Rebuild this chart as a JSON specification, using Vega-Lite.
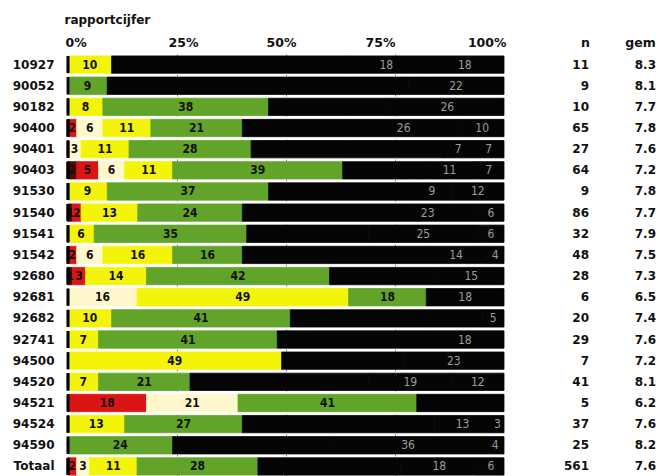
{
  "$schema": "https://vega.github.io/schema/vega-lite/v6.json",
  "padding": {"left": 12, "top": 13, "right": 0, "bottom": 0},
  "background": "white",
  "bounds": "flush",
  "spacing": 70,
  "datasets": {
    "segments": [
      {"code": "10927", "cat": "k4", "value": 10}, {"code": "10927", "cat": "k6", "value": 54}, {"code": "10927", "cat": "k7", "value": 18}, {"code": "10927", "cat": "k8", "value": 18},
      {"code": "90052", "cat": "k5", "value": 9}, {"code": "90052", "cat": "k6", "value": 69}, {"code": "90052", "cat": "k7", "value": 22},
      {"code": "90182", "cat": "k4", "value": 8}, {"code": "90182", "cat": "k5", "value": 38}, {"code": "90182", "cat": "k6", "value": 28}, {"code": "90182", "cat": "k7", "value": 26},
      {"code": "90400", "cat": "k2", "value": 2}, {"code": "90400", "cat": "k3", "value": 6}, {"code": "90400", "cat": "k4", "value": 11}, {"code": "90400", "cat": "k5", "value": 21}, {"code": "90400", "cat": "k6", "value": 24}, {"code": "90400", "cat": "k7", "value": 26}, {"code": "90400", "cat": "k8", "value": 10},
      {"code": "90401", "cat": "k3", "value": 3}, {"code": "90401", "cat": "k4", "value": 11}, {"code": "90401", "cat": "k5", "value": 28}, {"code": "90401", "cat": "k6", "value": 44}, {"code": "90401", "cat": "k7", "value": 7}, {"code": "90401", "cat": "k8", "value": 7},
      {"code": "90403", "cat": "k1", "value": 2}, {"code": "90403", "cat": "k2", "value": 5}, {"code": "90403", "cat": "k3", "value": 6}, {"code": "90403", "cat": "k4", "value": 11}, {"code": "90403", "cat": "k5", "value": 39}, {"code": "90403", "cat": "k6", "value": 19}, {"code": "90403", "cat": "k7", "value": 11}, {"code": "90403", "cat": "k8", "value": 7},
      {"code": "91530", "cat": "k4", "value": 9}, {"code": "91530", "cat": "k5", "value": 37}, {"code": "91530", "cat": "k6", "value": 33}, {"code": "91530", "cat": "k7", "value": 9}, {"code": "91530", "cat": "k8", "value": 12},
      {"code": "91540", "cat": "k1", "value": 1}, {"code": "91540", "cat": "k2", "value": 2}, {"code": "91540", "cat": "k4", "value": 13}, {"code": "91540", "cat": "k5", "value": 24}, {"code": "91540", "cat": "k6", "value": 31}, {"code": "91540", "cat": "k7", "value": 23}, {"code": "91540", "cat": "k8", "value": 6},
      {"code": "91541", "cat": "k4", "value": 6}, {"code": "91541", "cat": "k5", "value": 35}, {"code": "91541", "cat": "k6", "value": 28}, {"code": "91541", "cat": "k7", "value": 25}, {"code": "91541", "cat": "k8", "value": 6},
      {"code": "91542", "cat": "k2", "value": 2}, {"code": "91542", "cat": "k3", "value": 6}, {"code": "91542", "cat": "k4", "value": 16}, {"code": "91542", "cat": "k5", "value": 16}, {"code": "91542", "cat": "k6", "value": 42}, {"code": "91542", "cat": "k7", "value": 14}, {"code": "91542", "cat": "k8", "value": 4},
      {"code": "92680", "cat": "k1", "value": 1}, {"code": "92680", "cat": "k2", "value": 3}, {"code": "92680", "cat": "k4", "value": 14}, {"code": "92680", "cat": "k5", "value": 42}, {"code": "92680", "cat": "k6", "value": 25}, {"code": "92680", "cat": "k8", "value": 15},
      {"code": "92681", "cat": "k3", "value": 16}, {"code": "92681", "cat": "k4", "value": 49}, {"code": "92681", "cat": "k5", "value": 18}, {"code": "92681", "cat": "k7", "value": 18},
      {"code": "92682", "cat": "k4", "value": 10}, {"code": "92682", "cat": "k5", "value": 41}, {"code": "92682", "cat": "k6", "value": 44}, {"code": "92682", "cat": "k8", "value": 5},
      {"code": "92741", "cat": "k4", "value": 7}, {"code": "92741", "cat": "k5", "value": 41}, {"code": "92741", "cat": "k6", "value": 34}, {"code": "92741", "cat": "k8", "value": 18},
      {"code": "94500", "cat": "k4", "value": 49}, {"code": "94500", "cat": "k6", "value": 28}, {"code": "94500", "cat": "k7", "value": 23},
      {"code": "94520", "cat": "k4", "value": 7}, {"code": "94520", "cat": "k5", "value": 21}, {"code": "94520", "cat": "k6", "value": 41}, {"code": "94520", "cat": "k7", "value": 19}, {"code": "94520", "cat": "k8", "value": 12},
      {"code": "94521", "cat": "k2", "value": 18}, {"code": "94521", "cat": "k3", "value": 21}, {"code": "94521", "cat": "k5", "value": 41}, {"code": "94521", "cat": "k6", "value": 20},
      {"code": "94524", "cat": "k4", "value": 13}, {"code": "94524", "cat": "k5", "value": 27}, {"code": "94524", "cat": "k6", "value": 44}, {"code": "94524", "cat": "k7", "value": 13}, {"code": "94524", "cat": "k8", "value": 3},
      {"code": "94590", "cat": "k5", "value": 24}, {"code": "94590", "cat": "k6", "value": 36}, {"code": "94590", "cat": "k7", "value": 36}, {"code": "94590", "cat": "k8", "value": 4},
      {"code": "Totaal", "cat": "k2", "value": 2}, {"code": "Totaal", "cat": "k3", "value": 3}, {"code": "Totaal", "cat": "k4", "value": 11}, {"code": "Totaal", "cat": "k5", "value": 28}, {"code": "Totaal", "cat": "k6", "value": 33}, {"code": "Totaal", "cat": "k7", "value": 18}, {"code": "Totaal", "cat": "k8", "value": 6}
    ],
    "stats": [
      {"code": "10927", "n": 11, "gem": 8.3}, {"code": "90052", "n": 9, "gem": 8.1},
      {"code": "90182", "n": 10, "gem": 7.7}, {"code": "90400", "n": 65, "gem": 7.8},
      {"code": "90401", "n": 27, "gem": 7.6}, {"code": "90403", "n": 64, "gem": 7.2},
      {"code": "91530", "n": 9, "gem": 7.8}, {"code": "91540", "n": 86, "gem": 7.7},
      {"code": "91541", "n": 32, "gem": 7.9}, {"code": "91542", "n": 48, "gem": 7.5},
      {"code": "92680", "n": 28, "gem": 7.3}, {"code": "92681", "n": 6, "gem": 6.5},
      {"code": "92682", "n": 20, "gem": 7.4}, {"code": "92741", "n": 29, "gem": 7.6},
      {"code": "94500", "n": 7, "gem": 7.2}, {"code": "94520", "n": 41, "gem": 8.1},
      {"code": "94521", "n": 5, "gem": 6.2}, {"code": "94524", "n": 37, "gem": 7.6},
      {"code": "94590", "n": 25, "gem": 8.2}, {"code": "Totaal", "n": 561, "gem": 7.6}
    ]
  },
  "hconcat": [
    {
      "width": 436,
      "height": 423,
      "data": {"name": "segments"},
      "transform": [
        {"stack": "value", "groupby": ["code"], "sort": [{"field": "cat"}], "offset": "normalize", "as": ["x0", "x1"]},
        {"calculate": "(datum.x0 + datum.x1) / 2", "as": "xm"}
      ],
      "encoding": {
        "y": {
          "field": "code",
          "type": "nominal",
          "scale": {
            "domain": ["10927", "90052", "90182", "90400", "90401", "90403", "91530", "91540", "91541", "91542", "92680", "92681", "92682", "92741", "94500", "94520", "94521", "94524", "94590", "Totaal"],
            "paddingInner": 0.18,
            "paddingOuter": 0.09
          },
          "axis": {
            "title": null,
            "domain": false,
            "ticks": false,
            "labelPadding": 14,
            "labelFont": "DejaVu Sans",
            "labelFontWeight": "bold",
            "labelFontSize": 12,
            "labelColor": "#111"
          }
        }
      },
      "layer": [
        {
          "mark": {"type": "bar", "strokeWidth": 0.8},
          "encoding": {
            "x": {
              "field": "x0",
              "type": "quantitative",
              "scale": {"domain": [0, 1], "nice": false},
              "axis": {
                "orient": "top",
                "values": [0, 0.25, 0.5, 0.75, 1],
                "format": "%",
                "domain": false,
                "ticks": false,
                "grid": true,
                "gridColor": {"condition": {"test": "datum.value == 0 || datum.value == 1", "value": "transparent"}, "value": "#8a8a8a"},
                "gridDash": [2, 3],
                "labelPadding": 4.5,
                "labelFont": "DejaVu Sans",
                "labelFontWeight": "bold",
                "labelFontSize": 12.5,
                "labelColor": "#111",
                "labelAlign": {"condition": [{"test": "datum.value == 0", "value": "left"}, {"test": "datum.value == 1", "value": "right"}], "value": "center"},
                "labelOffset": {"condition": [{"test": "datum.value == 0", "value": -3}, {"test": "datum.value == 0.25", "value": 6}, {"test": "datum.value == 0.5", "value": -5}, {"test": "datum.value == 0.75", "value": -15}], "value": 2},
                "title": "rapportcijfer",
                "titleAnchor": "start",
                "titleAlign": "left",
                "titleFont": "DejaVu Sans",
                "titleFontWeight": "bold",
                "titleFontSize": 12,
                "titleColor": "#111",
                "titlePadding": 10,
                "titleX": -4
              }
            },
            "x2": {"field": "x1"},
            "color": {
              "field": "cat",
              "type": "nominal",
              "scale": {
                "domain": ["k1", "k2", "k3", "k4", "k5", "k6", "k7", "k8"],
                "range": ["#5a0606", "#dc1414", "#fff8cc", "#f4f40a", "#62a42a", "#050505", "#050505", "#050505"]
              },
              "legend": null
            },
            "stroke": {
              "field": "cat",
              "type": "nominal",
              "scale": {
                "domain": ["k1", "k2", "k3", "k4", "k5", "k6", "k7", "k8"],
                "range": ["#5a0606", "#dc1414", "#fff8cc", "#f4f40a", "#62a42a", "#050505", "#050505", "#050505"]
              },
              "legend": null
            }
          }
        },
        {
          "transform": [{"filter": "datum.cat != 'k6' && datum.cat != 'k7' && datum.cat != 'k8'"}],
          "mark": {"type": "text", "font": "DejaVu Sans Condensed", "fontWeight": "bold", "fontSize": 12, "color": "#111", "baseline": "middle"},
          "encoding": {
            "x": {"field": "xm", "type": "quantitative"},
            "text": {"field": "value", "type": "quantitative"}
          }
        },
        {
          "transform": [{"filter": "datum.cat == 'k7' || datum.cat == 'k8'"}],
          "mark": {"type": "text", "font": "DejaVu Sans Condensed", "fontSize": 12, "color": "#9c9c9c", "baseline": "middle"},
          "encoding": {
            "x": {"field": "xm", "type": "quantitative"},
            "text": {"field": "value", "type": "quantitative"}
          }
        },
        {
          "mark": {"type": "tick", "color": "#000", "thickness": 2.5, "size": 17},
          "encoding": {"x": {"datum": 0}}
        }
      ]
    },
    {
      "width": 77,
      "height": 423,
      "data": {"name": "stats"},
      "encoding": {
        "y": {
          "field": "code",
          "type": "nominal",
          "scale": {
            "domain": ["10927", "90052", "90182", "90400", "90401", "90403", "91530", "91540", "91541", "91542", "92680", "92681", "92682", "92741", "94500", "94520", "94521", "94524", "94590", "Totaal"],
            "paddingInner": 0.18,
            "paddingOuter": 0.09
          },
          "axis": null
        }
      },
      "layer": [
        {
          "mark": {"type": "text", "align": "right", "dx": 4, "font": "DejaVu Sans", "fontWeight": "bold", "fontSize": 12, "color": "#111", "baseline": "middle"},
          "encoding": {
            "x": {
              "datum": "n",
              "type": "nominal",
              "scale": {"type": "point", "domain": ["n", "gem"], "padding": 0.2},
              "axis": {
                "orient": "top",
                "title": null,
                "domain": false,
                "ticks": false,
                "grid": false,
                "labelAngle": 0,
                "labelPadding": 4.5,
                "labelFont": "DejaVu Sans",
                "labelFontWeight": "bold",
                "labelFontSize": 12.5,
                "labelColor": "#111"
              }
            },
            "text": {"field": "n", "type": "quantitative"}
          }
        },
        {
          "mark": {"type": "text", "align": "right", "dx": 16, "font": "DejaVu Sans", "fontWeight": "bold", "fontSize": 12, "color": "#111", "baseline": "middle"},
          "encoding": {
            "x": {"datum": "gem", "type": "nominal"},
            "text": {"field": "gem", "type": "quantitative", "format": ".1f"}
          }
        }
      ]
    }
  ],
  "config": {
    "view": {"stroke": null},
    "font": "DejaVu Sans"
  }
}
